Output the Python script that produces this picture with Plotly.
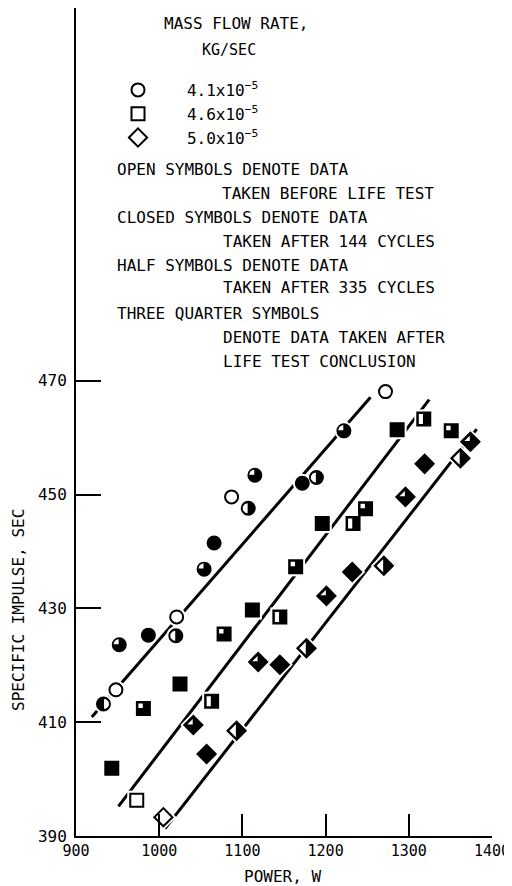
import plotly.graph_objects as go

# ---------------- data ----------------
# state codes: O = open, F = closed (filled), H = half, Q = three-quarter, L = half (left filled)
circ_power = [933, 948, 952, 987, 1020, 1021, 1054, 1066, 1087, 1107, 1115, 1172, 1189, 1222, 1272]
circ_isp = [413.2, 415.7, 423.6, 425.3, 425.2, 428.5, 436.9, 441.5, 449.6, 447.6, 453.4, 452.0, 453.0, 461.2, 468.1]
circ_state = ['L', 'O', 'Q', 'F', 'H', 'O', 'Q', 'F', 'O', 'H', 'Q', 'F', 'H', 'Q', 'O']

sq_power = [943, 973, 981, 1025, 1063, 1078, 1112, 1145, 1164, 1196, 1233, 1248, 1286, 1318, 1351]
sq_isp = [401.9, 396.3, 412.4, 416.7, 413.7, 425.5, 429.7, 428.5, 437.3, 444.9, 444.9, 447.5, 461.4, 463.3, 461.2]
sq_state = ['F', 'O', 'Q', 'F', 'H', 'Q', 'F', 'H', 'Q', 'F', 'H', 'Q', 'F', 'H', 'Q']

dm_power = [1005, 1041, 1057, 1093, 1119, 1145, 1177, 1201, 1232, 1270, 1296, 1319, 1362, 1374]
dm_isp = [393.3, 409.5, 404.4, 408.5, 420.6, 420.1, 423.0, 432.2, 436.4, 437.5, 449.6, 455.4, 456.4, 459.3]
dm_state = ['O', 'Q', 'F', 'H', 'Q', 'F', 'H', 'Q', 'F', 'H', 'Q', 'F', 'H', 'Q']

# fitted lines (end points)
circ_fit_power = [919, 1254]
circ_fit_isp = [410.9, 467.1]
sq_fit_power = [951, 1324.5]
sq_fit_isp = [395.2, 466.7]
dm_fit_power = [1007, 1381.6]
dm_fit_isp = [391.3, 461.5]

series_names = ["4.1x10<sup>\u22125</sup>", "4.6x10<sup>\u22125</sup>", "5.0x10<sup>\u22125</sup>"]

x_ticks = [900, 1000, 1100, 1200, 1300, 1400]
y_ticks = [390, 410, 430, 450, 470]

# ---------------- layout geometry ----------------
OFF = 8                      # page body margin of the browser
W, H = 512 - OFF, 886 - OFF
ML, MR, MT, MB = 76 - OFF, 20, 8 - OFF, 50
PW, PH = W - ML - MR, H - MT - MB
X0, X1 = 900, 1400
Y0 = 390
Y1 = Y0 + PH / 5.69
KX = PW / (X1 - X0)
KY = PH / (Y1 - Y0)

FONT = "DejaVu Sans Mono"
BLACK = "black"

fig = go.Figure()

# fitted lines
for fx, fy in [(circ_fit_power, circ_fit_isp), (sq_fit_power, sq_fit_isp), (dm_fit_power, dm_fit_isp)]:
    fig.add_trace(go.Scatter(x=fx, y=fy, mode="lines", line=dict(color=BLACK, width=3),
                             showlegend=False, hoverinfo="skip"))

series = [
    ("circle", 13, circ_power, circ_isp, circ_state),
    ("square", 13, sq_power, sq_isp, sq_state),
    ("diamond", 14, dm_power, dm_isp, dm_state),
]

# white halos that break the fitted lines around symbols
for sym, size, xs, ys, st in series:
    fig.add_trace(go.Scatter(x=xs, y=ys, mode="markers",
                             marker=dict(symbol=sym, size=size + 6, color="white", line=dict(width=0)),
                             showlegend=False, hoverinfo="skip"))

# symbols
for sym, size, xs, ys, st in series:
    colors = ["white" if s == "O" else BLACK for s in st]
    fig.add_trace(go.Scatter(x=xs, y=ys, mode="markers",
                             marker=dict(symbol=sym, size=size, color=colors,
                                         line=dict(color=BLACK, width=2)),
                             showlegend=False, hoverinfo="skip"))


# white openings for half / three-quarter symbols (offsets in screen pixels, y up)
def hole(sym, state):
    import math
    if sym == "circle":
        r = 5.0
        if state == "H":
            return [(-0.6 + r * math.cos(math.radians(a)), r * math.sin(math.radians(a))) for a in range(90, 271, 10)]
        if state == "L":
            return [(0.6 + r * math.cos(math.radians(a)), r * math.sin(math.radians(a))) for a in range(-90, 91, 10)]
        if state == "Q":
            return [(-0.6, 0.6)] + [(-0.6 + r * math.cos(math.radians(a)), 0.6 + r * math.sin(math.radians(a)))
                                    for a in range(90, 181, 10)]
    if sym == "square":
        h = 5.0
        if state == "H":
            return [(-h, -h), (-0.8, -h), (-0.8, h), (-h, h)]
        if state == "Q":
            return [(-h, 0.6), (-0.6, 0.6), (-0.6, h), (-h, h)]
    if sym == "diamond":
        d = 7.2
        if state == "H":
            return [(-d, 0), (-0.7, d - 0.7), (-0.7, -(d - 0.7))]
        if state == "Q":
            return [(-d + 1.2, 0.6), (-0.6, d - 1.2), (-0.6, 0.6)]
    return None


hx, hy = [], []
for sym, size, xs, ys, st in series:
    for x, y, s in zip(xs, ys, st):
        pts = hole(sym, s)
        if not pts:
            continue
        for dx, dy in pts:
            hx.append(x + dx / KX)
            hy.append(y + dy / KY)
        hx.append(None)
        hy.append(None)
fig.add_trace(go.Scatter(x=hx, y=hy, mode="lines", line=dict(width=0, color="white"),
                         fill="toself", fillcolor="white", showlegend=False, hoverinfo="skip"))

# legend entries (open symbols)
for (sym, size, *_), name in zip(series, series_names):
    fig.add_trace(go.Scatter(x=[None], y=[None], mode="markers", name="\u00a0\u00a0\u00a0" + name,
                             marker=dict(symbol=sym, size=size, color="white",
                                         line=dict(color=BLACK, width=2))))


def px(xp):
    # window pixel -> paper fraction
    return (xp - OFF - ML) / PW


def py(yp):
    return (MT + PH - (yp - OFF)) / PH


texts = [
    ("MASS FLOW RATE,", 162, 24, 16),
    ("KG/SEC", 200, 50, 15),
    ("OPEN SYMBOLS DENOTE DATA", 115, 170, 16),
    ("TAKEN BEFORE LIFE TEST", 220, 193, 16),
    ("CLOSED SYMBOLS DENOTE DATA", 115, 217, 16),
    ("TAKEN AFTER 144 CYCLES", 221, 241, 16),
    ("HALF SYMBOLS DENOTE DATA", 115, 265, 16),
    ("TAKEN AFTER 335 CYCLES", 221, 288, 16),
    ("THREE QUARTER SYMBOLS", 115, 313, 16),
    ("DENOTE DATA TAKEN AFTER", 221, 337, 16),
    ("LIFE TEST CONCLUSION", 221, 361, 16),
]
annotations = []
for t, x, y, s in texts:
    annotations.append(dict(text=t, x=px(x), y=py(y), xref="paper", yref="paper",
                            xanchor="left", yanchor="middle", showarrow=False,
                            font=dict(family=FONT, size=s, color=BLACK)))
annotations.append(dict(text="POWER, W", x=px(282), y=py(876), xref="paper", yref="paper",
                        xanchor="center", yanchor="middle", showarrow=False,
                        font=dict(family=FONT, size=16, color=BLACK)))
annotations.append(dict(text="SPECIFIC IMPULSE, SEC", x=px(18), y=py(610), xref="paper", yref="paper",
                        xanchor="center", yanchor="middle", showarrow=False, textangle=-90,
                        font=dict(family=FONT, size=16, color=BLACK)))

fig.update_layout(
    width=W, height=H,
    margin=dict(l=ML, r=MR, t=MT, b=MB, autoexpand=False),
    paper_bgcolor="white", plot_bgcolor="white",
    showlegend=True,
    legend=dict(x=px(118), y=py(73), xanchor="left", yanchor="top",
                bgcolor="rgba(0,0,0,0)", borderwidth=0, tracegroupgap=0,
                font=dict(family=FONT, size=16, color=BLACK)),
    annotations=annotations,
    xaxis=dict(range=[X0, X1], tickvals=x_ticks, ticktext=[str(v) for v in x_ticks],
               ticks="inside", ticklen=22, tickwidth=2, tickcolor=BLACK,
               showline=True, linewidth=2, linecolor=BLACK, showgrid=False, zeroline=False,
               tickfont=dict(family=FONT, size=15, color=BLACK), fixedrange=True),
    yaxis=dict(range=[Y0, Y1], tickvals=y_ticks, ticktext=[str(v) for v in y_ticks],
               ticks="inside", ticklen=25, tickwidth=2, tickcolor=BLACK,
               showline=True, linewidth=2, linecolor=BLACK, showgrid=False, zeroline=False,
               ticklabelstandoff=4,
               tickfont=dict(family=FONT, size=16, color=BLACK), fixedrange=True),
)

fig.write_html("out.html")
